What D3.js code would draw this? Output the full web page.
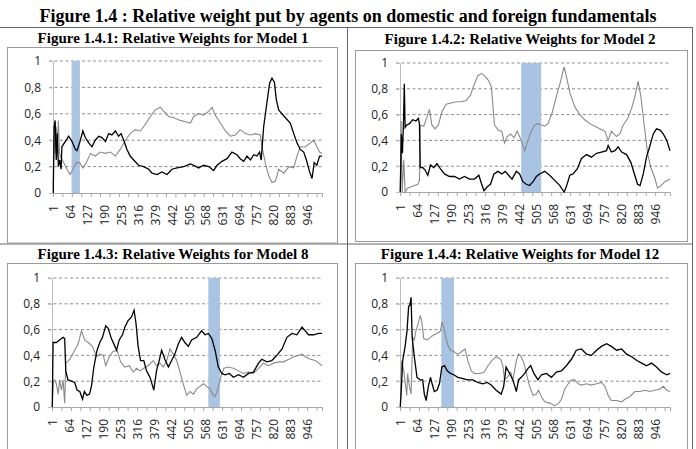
<!DOCTYPE html>
<html lang="en">
<head>
<meta charset="UTF-8">
<script src="https://d3js.org/d3.v7.min.js"></script>
<style>
  body { margin: 0; background: #fff; }
  svg { display: block; }
  .serif { font-family: "Liberation Serif", "Times New Roman", serif; font-weight: bold; fill: #000; }
  .axis text { font-family: "Open Sans", sans-serif; font-size: 12px; fill: #222; }
</style>
</head>
<body>
<svg id="fig" width="696" height="449"></svg>
<script>
// observation index / relative weight, read off the figure
// black = domestic, grey = foreign
const m1Dom = [[1,0],[4,0.5],[8,0.55],[12,0.25],[16,0.45],[20,0.2],[25,0.25],[30,0.18],[33,0.35],[52,0.41],[58,0.43],[71,0.39],[83,0.33],[89,0.32],[99,0.38],[111,0.47],[120,0.42],[133,0.38],[145,0.35],[157,0.40],[170,0.43],[182,0.42],[195,0.39],[207,0.45],[219,0.44],[232,0.47],[244,0.43],[253,0.45],[263,0.40],[275,0.33],[287,0.28],[300,0.25],[318,0.21],[337,0.20],[356,0.18],[368,0.15],[387,0.14],[405,0.16],[424,0.14],[442,0.18],[461,0.19],[486,0.20],[511,0.22],[523,0.21],[541,0.19],[560,0.21],[579,0.20],[597,0.17],[610,0.21],[628,0.24],[647,0.26],[665,0.31],[684,0.29],[696,0.26],[709,0.24],[721,0.28],[734,0.25],[746,0.29],[758,0.28],[768,0.31],[774,0.25],[783,0.50],[795,0.68],[805,0.83],[814,0.87],[823,0.84],[830,0.71],[839,0.63],[851,0.60],[864,0.57],[882,0.53],[895,0.45],[907,0.38],[919,0.33],[932,0.31],[942,0.25],[954,0.16],[963,0.11],[971,0.23],[981,0.21],[991,0.28],[1000,0.28]];
const m1For = [[1,0.05],[4,0.45],[8,0.3],[12,0.5],[16,0.35],[20,0.55],[24,0.3],[27,0.28],[40,0.23],[52,0.18],[64,0.14],[74,0.18],[87,0.23],[99,0.23],[111,0.19],[124,0.23],[139,0.30],[157,0.28],[176,0.31],[195,0.30],[213,0.31],[232,0.28],[250,0.33],[269,0.40],[287,0.45],[306,0.48],[325,0.47],[343,0.52],[362,0.58],[380,0.63],[399,0.65],[411,0.62],[430,0.58],[449,0.57],[473,0.55],[492,0.54],[511,0.53],[523,0.58],[541,0.60],[560,0.59],[579,0.62],[591,0.65],[603,0.59],[622,0.53],[641,0.47],[659,0.43],[678,0.44],[696,0.48],[715,0.45],[734,0.44],[752,0.45],[771,0.44],[777,0.35],[789,0.23],[802,0.13],[814,0.08],[827,0.09],[839,0.18],[858,0.15],[877,0.20],[895,0.19],[907,0.28],[919,0.35],[938,0.35],[957,0.38],[969,0.40],[981,0.35],[991,0.31],[1000,0.30]];

const m2Dom = [[1,0],[5,0.45],[9,0.3],[13,0.55],[16,0.84],[19,0.5],[25,0.52],[35,0.53],[47,0.56],[59,0.55],[68,0.57],[72,0.53],[75,0.19],[84,0.19],[93,0.17],[103,0.13],[113,0.21],[125,0.19],[137,0.22],[150,0.18],[165,0.14],[183,0.12],[202,0.12],[220,0.10],[239,0.12],[257,0.10],[276,0.10],[292,0.13],[301,0.07],[311,0.01],[323,0.04],[335,0.06],[348,0.14],[363,0.16],[377,0.14],[390,0.16],[402,0.13],[415,0.10],[431,0.16],[443,0.14],[455,0.08],[468,0.06],[480,0.05],[493,0.08],[505,0.12],[517,0.14],[536,0.16],[554,0.13],[573,0.09],[592,0.05],[608,0.0],[616,0.04],[629,0.13],[641,0.14],[657,0.18],[672,0.26],[691,0.29],[709,0.27],[728,0.30],[746,0.31],[765,0.32],[771,0.36],[783,0.31],[796,0.32],[808,0.35],[821,0.31],[839,0.29],[855,0.23],[868,0.14],[880,0.06],[889,0.05],[901,0.14],[913,0.27],[926,0.36],[938,0.45],[950,0.49],[963,0.48],[975,0.45],[988,0.40],[1000,0.32]];
const m2For = [[1,0],[4,0.55],[8,0.0],[14,0.25],[19,0.0],[28,0.03],[41,0.04],[53,0.05],[66,0.06],[72,0.09],[75,0.52],[88,0.51],[100,0.58],[109,0.64],[118,0.52],[130,0.49],[142,0.52],[155,0.62],[171,0.68],[189,0.69],[208,0.70],[226,0.70],[245,0.71],[261,0.75],[274,0.83],[288,0.90],[301,0.92],[313,0.90],[326,0.87],[338,0.82],[350,0.52],[363,0.48],[377,0.47],[387,0.38],[397,0.43],[410,0.45],[422,0.42],[434,0.47],[443,0.43],[455,0.36],[462,0.32],[474,0.40],[486,0.47],[499,0.52],[511,0.53],[524,0.52],[536,0.51],[548,0.53],[563,0.61],[579,0.74],[595,0.86],[608,0.97],[616,0.90],[629,0.77],[647,0.66],[666,0.60],[684,0.56],[703,0.53],[722,0.51],[740,0.49],[759,0.47],[771,0.40],[783,0.47],[802,0.43],[814,0.45],[827,0.52],[843,0.57],[858,0.65],[870,0.74],[882,0.86],[892,0.74],[905,0.51],[917,0.30],[929,0.19],[942,0.12],[954,0.03],[967,0.05],[981,0.08],[1000,0.10]];

const m8Dom = [[1,0],[4,0.5],[16,0.50],[28,0.52],[41,0.54],[47,0.53],[51,0.28],[59,0.21],[72,0.20],[84,0.19],[93,0.13],[103,0.12],[113,0.06],[120,0.12],[129,0.09],[139,0.10],[146,0.16],[155,0.31],[167,0.44],[177,0.50],[187,0.54],[199,0.63],[208,0.61],[220,0.53],[233,0.47],[239,0.44],[249,0.52],[261,0.56],[270,0.62],[282,0.67],[295,0.70],[304,0.75],[311,0.65],[319,0.47],[328,0.36],[340,0.36],[350,0.28],[363,0.23],[373,0.16],[377,0.13],[387,0.28],[397,0.36],[406,0.44],[418,0.37],[431,0.31],[443,0.36],[455,0.41],[468,0.49],[480,0.54],[492,0.50],[505,0.47],[517,0.52],[536,0.54],[554,0.59],[567,0.56],[579,0.57],[592,0.53],[604,0.44],[616,0.31],[629,0.26],[641,0.25],[657,0.26],[672,0.23],[691,0.25],[709,0.23],[728,0.26],[746,0.27],[765,0.34],[777,0.37],[796,0.35],[814,0.36],[833,0.40],[852,0.45],[870,0.54],[889,0.57],[907,0.56],[926,0.62],[938,0.59],[950,0.56],[969,0.56],[988,0.57],[1000,0.57]];
const m8For = [[1,0],[5,0.2],[10,0.21],[16,0.18],[23,0.10],[28,0.21],[35,0.13],[41,0.21],[47,0.03],[51,0.34],[66,0.37],[84,0.44],[97,0.49],[109,0.59],[121,0.52],[134,0.50],[150,0.47],[165,0.39],[177,0.41],[190,0.40],[199,0.32],[212,0.39],[226,0.43],[241,0.44],[254,0.35],[270,0.31],[286,0.32],[301,0.27],[313,0.30],[326,0.28],[340,0.30],[356,0.32],[375,0.36],[387,0.32],[400,0.34],[412,0.31],[425,0.36],[437,0.45],[449,0.41],[462,0.36],[474,0.27],[486,0.18],[499,0.09],[511,0.12],[524,0.10],[536,0.14],[548,0.16],[561,0.18],[573,0.16],[585,0.14],[598,0.09],[604,0.08],[613,0.13],[625,0.23],[637,0.30],[653,0.31],[672,0.30],[691,0.28],[709,0.26],[728,0.27],[746,0.26],[765,0.30],[783,0.34],[802,0.32],[821,0.34],[839,0.35],[858,0.35],[877,0.37],[895,0.39],[913,0.40],[926,0.41],[938,0.39],[957,0.37],[975,0.36],[988,0.34],[1000,0.32]];

const m12Dom = [[1,0],[4,0.1],[10,0.36],[19,0.47],[26,0.59],[32,0.78],[37,0.79],[41,0.85],[45,0.54],[53,0.39],[63,0.23],[75,0.21],[84,0.21],[90,0.10],[97,0.05],[105,0.16],[113,0.23],[119,0.18],[127,0.12],[137,0.13],[146,0.18],[155,0.31],[165,0.32],[175,0.28],[187,0.26],[199,0.25],[214,0.23],[233,0.22],[251,0.21],[270,0.21],[288,0.19],[307,0.18],[323,0.19],[338,0.17],[356,0.13],[375,0.10],[384,0.16],[393,0.31],[406,0.26],[418,0.21],[431,0.12],[439,0.21],[449,0.23],[462,0.26],[474,0.30],[484,0.32],[496,0.26],[511,0.21],[524,0.25],[542,0.26],[561,0.23],[579,0.27],[598,0.28],[616,0.32],[635,0.37],[653,0.44],[672,0.45],[691,0.41],[709,0.40],[728,0.44],[746,0.47],[765,0.49],[783,0.47],[802,0.44],[821,0.45],[839,0.41],[858,0.39],[877,0.36],[895,0.34],[913,0.32],[932,0.34],[950,0.31],[969,0.27],[988,0.25],[1000,0.26]];
const m12For = [[1,0],[6,0.36],[14,0.28],[20,0.18],[25,0.09],[28,0.26],[35,0.16],[41,0.10],[47,0.54],[53,0.52],[59,0.59],[68,0.65],[75,0.71],[80,0.67],[88,0.53],[100,0.52],[113,0.54],[125,0.56],[137,0.57],[150,0.59],[156,0.66],[165,0.59],[175,0.49],[187,0.44],[199,0.43],[214,0.41],[229,0.43],[241,0.45],[251,0.36],[264,0.28],[276,0.26],[295,0.26],[311,0.27],[326,0.32],[340,0.36],[356,0.39],[373,0.37],[381,0.32],[387,0.21],[397,0.23],[410,0.27],[418,0.21],[431,0.36],[439,0.41],[449,0.39],[459,0.34],[468,0.26],[480,0.16],[493,0.09],[505,0.10],[513,0.13],[524,0.08],[536,0.04],[554,0.03],[573,0.01],[588,0.03],[598,0.06],[610,0.14],[623,0.18],[635,0.21],[647,0.21],[660,0.18],[672,0.17],[691,0.18],[709,0.17],[728,0.18],[746,0.19],[759,0.16],[771,0.09],[783,0.05],[802,0.05],[821,0.04],[833,0.06],[851,0.08],[870,0.12],[889,0.12],[907,0.13],[926,0.12],[944,0.13],[963,0.14],[975,0.16],[988,0.13],[1000,0.12]];

// shaded periods
const band1 = [69, 100];
const band2 = [449, 523];
const band8 = [579, 622];
const band12 = [153, 200];

const xLabels = [1, 64, 127, 190, 253, 316, 379, 442, 505, 568, 631, 694, 757, 820, 883, 946];
const yTicks = [0, 0.2, 0.4, 0.6, 0.8, 1];
const nObs = 1000;

const titles = [
  "Figure 1.4.1: Relative Weights for Model 1",
  "Figure 1.4.2: Relative Weights for Model 2",
  "Figure 1.4.3: Relative Weights for Model 8",
  "Figure 1.4.4: Relative Weights for Model 12"
];

const svg = d3.select("#fig");

// main heading
svg.append("text")
  .attr("class", "serif")
  .attr("x", 348).attr("y", 22)
  .attr("text-anchor", "middle")
  .style("font-size", "18px")
  .text("Figure 1.4 : Relative weight put by agents on domestic and foreign fundamentals");

// table rules
const rules = [[0, 27.5, 693, 27.5], [0, 244, 693, 244], [347.5, 27.5, 347.5, 449], [692.5, 27.5, 692.5, 449]];
svg.selectAll("line.rule").data(rules).enter().append("line")
  .attr("x1", d => d[0]).attr("y1", d => d[1]).attr("x2", d => d[2]).attr("y2", d => d[3])
  .attr("stroke", "#666").attr("stroke-width", 1);

const layout = [
  { box: [7.5, 47.5, 330, 195.5], plot: [53, 322, 61, 193], tx: 173, ty: 42.5 },
  { box: [355.5, 50.5, 332, 191], plot: [400, 670, 63, 192], tx: 520, ty: 44 },
  { box: [7.5, 263.5, 330, 200], plot: [52, 322, 278, 407], tx: 173, ty: 259 },
  { box: [355.5, 263.5, 332, 200], plot: [400, 670, 278, 407], tx: 520, ty: 259 }
];
const series = [[m1Dom, m1For, band1], [m2Dom, m2For, band2], [m8Dom, m8For, band8], [m12Dom, m12For, band12]];

function drawPanel(i) {
  const L = layout[i];
  const [dom, forn, band] = series[i];
  const [left, right, top, bottom] = L.plot;

  svg.append("text")
    .attr("class", "serif")
    .attr("x", L.tx).attr("y", L.ty)
    .attr("text-anchor", "middle")
    .style("font-size", "15px")
    .text(titles[i]);

  svg.append("rect")
    .attr("x", L.box[0]).attr("y", L.box[1])
    .attr("width", L.box[2]).attr("height", L.box[3])
    .attr("fill", "none").attr("stroke", "#9a9a9a");

  const x = d3.scaleLinear().domain([0, nObs]).range([left, right]);
  const y = d3.scaleLinear().domain([0, 1]).range([bottom, top]);

  // dashed gridlines
  svg.append("g").selectAll("line")
    .data(yTicks.slice(1)).enter().append("line")
    .attr("x1", left - 4).attr("x2", right)
    .attr("y1", d => y(d)).attr("y2", d => y(d))
    .attr("stroke", "#8c8c8c").attr("stroke-dasharray", "3,2.5");

  // highlighted period
  svg.append("rect")
    .attr("x", x(band[0])).attr("width", x(band[1]) - x(band[0]))
    .attr("y", y(1)).attr("height", y(0) - y(1))
    .attr("fill", "#a9c3e3");

  // y axis
  const ya = svg.append("g").attr("class", "axis")
    .attr("transform", `translate(${left},0)`)
    .call(d3.axisLeft(y).tickValues(yTicks).tickSize(4).tickPadding(8)
      .tickFormat(d => String(d).replace(".", ",")));
  ya.select(".domain").attr("stroke", "#bdbdbd");
  ya.selectAll(".tick line").attr("stroke", "#bdbdbd");

  // x axis: minor tick marks, then labelled ticks
  const minor = d3.range(0, nObs + 1, 35);
  const xm = svg.append("g").attr("transform", `translate(0,${bottom})`)
    .call(d3.axisBottom(x).tickValues(minor).tickSize(4).tickFormat(""));
  xm.select(".domain").attr("stroke", "#a6a6a6");
  xm.selectAll(".tick line").attr("stroke", "#a6a6a6");

  const xa = svg.append("g").attr("class", "axis")
    .attr("transform", `translate(0,${bottom})`)
    .call(d3.axisBottom(x).tickValues(xLabels).tickSize(0));
  xa.select(".domain").remove();
  xa.selectAll("text")
    .attr("transform", "rotate(-90)")
    .attr("text-anchor", "end")
    .attr("x", -12).attr("y", 0).attr("dy", "0.35em");

  const line = d3.line().x(d => x(d[0])).y(d => y(d[1]));

  svg.append("path").datum(forn)
    .attr("d", line).attr("fill", "none")
    .attr("stroke", "#8a8a8a").attr("stroke-width", 1.1);

  svg.append("path").datum(dom)
    .attr("d", line).attr("fill", "none")
    .attr("stroke", "#000").attr("stroke-width", 1.3);
}

for (let i = 0; i < 4; i++) drawPanel(i);
</script>
</body>
</html>
